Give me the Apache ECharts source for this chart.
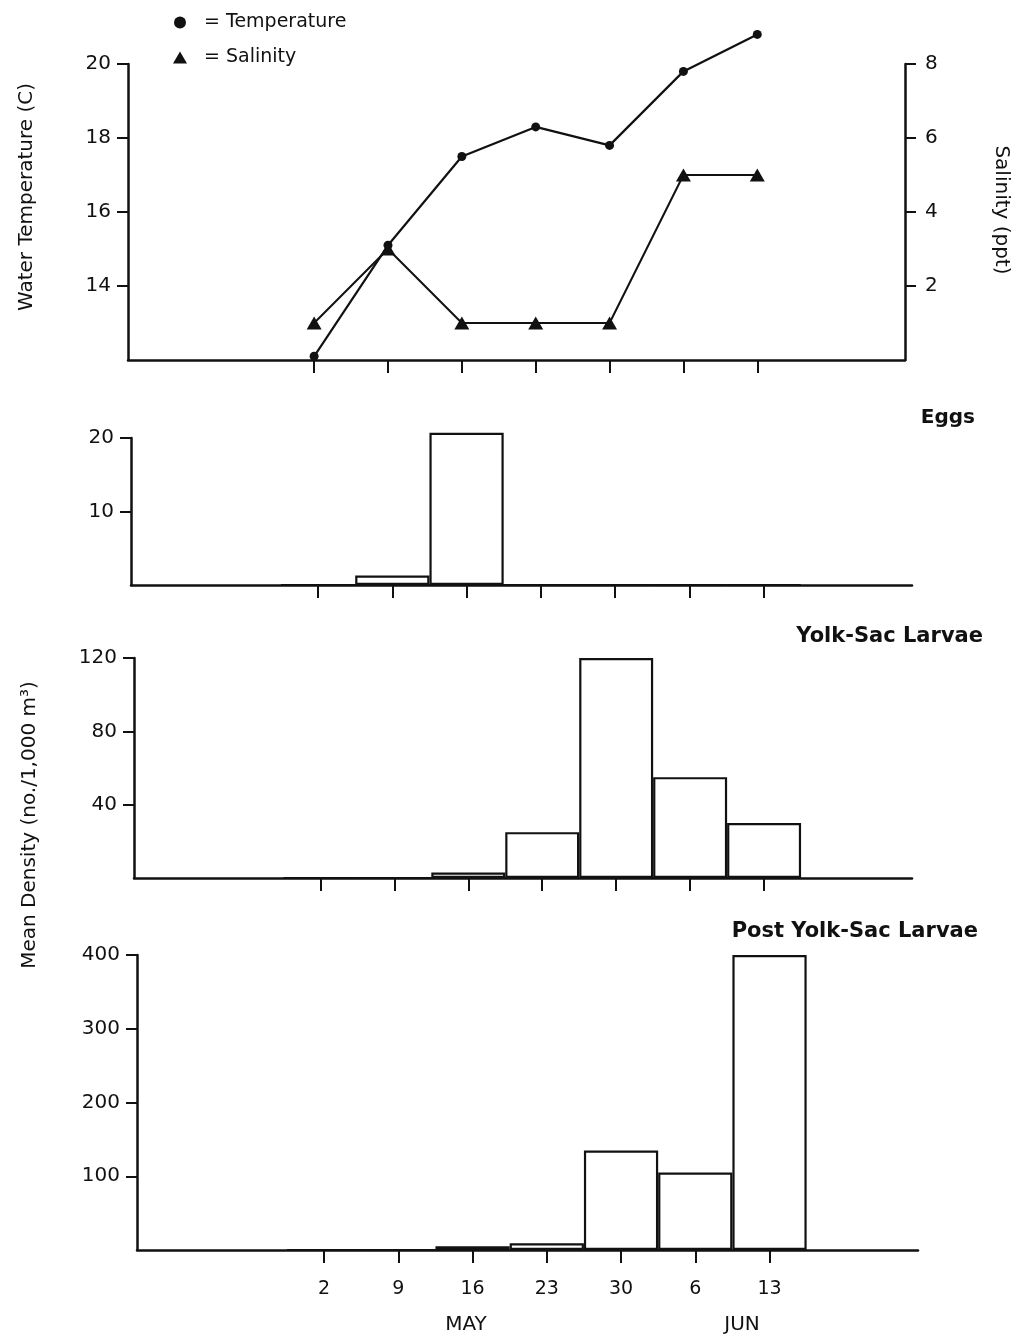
<!DOCTYPE html>
<html>
<head>
<meta charset="utf-8">
<script src="https://cdn.jsdelivr.net/npm/echarts@6/dist/echarts.min.js"></script>
<style>
  html,body{margin:0;padding:0;background:#fff}
  #chart{width:1019px;height:1338px}
</style>
</head>
<body>
<div id="chart"></div>
<script>
  // sampling weeks: May 2 ... Jun 13
  var weekIdx = [0, 1, 2, 3, 4, 5, 6];
  var weekLabels = ['2', '9', '16', '23', '30', '6', '13'];

  var temperature = [12.1, 15.1, 17.5, 18.3, 17.8, 19.8, 20.8];
  var salinity = [1, 3, 1, 1, 1, 5, 5];

  var eggs = [0, 1.3, 20.7, 0, 0, 0, 0];
  var yolkSac = [0, 0, 3, 25, 120, 55, 30];
  var postYolkSac = [0, 0, 5, 9, 135, 105, 400];

  var ink = '#111';
  var font = 'DejaVu Sans';

  var pairs = function (vals) {
    return weekIdx.map(function (w, i) { return [w, vals[i]]; });
  };

  var xAxisOf = function (grid, showLabels) {
    return {
      type: 'value', gridIndex: grid, min: -2.52, max: 8,
      axisLine: { onZero: false, lineStyle: { color: ink, width: 2.5 } },
      axisTick: { show: true, customValues: weekIdx, length: 13, lineStyle: { color: ink, width: 2 } },
      axisLabel: {
        show: showLabels, customValues: weekIdx, margin: 30,
        color: ink, fontSize: 19, fontFamily: font,
        formatter: function (v) { return weekLabels[Math.round(v)]; }
      },
      splitLine: { show: false }
    };
  };

  var yAxisOf = function (grid, min, max, ticks, pos) {
    return {
      type: 'value', gridIndex: grid, min: min, max: max, position: pos || 'left',
      axisLine: { show: true, onZero: false, lineStyle: { color: ink, width: 2.5 } },
      axisTick: { show: true, customValues: ticks, length: 11, lineStyle: { color: ink, width: 2 } },
      axisLabel: { customValues: ticks, margin: pos === 'right' ? 20 : 17, color: ink, fontSize: 20, fontFamily: font },
      splitLine: { show: false }
    };
  };

  var barSeries = function (vals, axis) {
    return {
      type: 'bar', xAxisIndex: axis, yAxisIndex: axis + 1,
      data: pairs(vals), barWidth: '100%', clip: false, silent: true,
      itemStyle: { color: '#fff', borderColor: ink, borderWidth: 2.2 }
    };
  };

  var nameText = function (text, x, y, rot) {
    return {
      type: 'text', x: x, y: y, rotation: rot,
      style: { text: text, fill: ink, font: '20px "DejaVu Sans"', textAlign: 'center', textVerticalAlign: 'middle' }
    };
  };

  var chart = echarts.init(document.getElementById('chart'));
  var option = {
    backgroundColor: '#fff',
    animation: false,
    title: [
      { text: 'Eggs', right: 39, top: 403, textStyle: { color: ink, fontSize: 20, fontWeight: 'bold', fontFamily: font } },
      { text: 'Yolk-Sac Larvae', right: 31, top: 621, textStyle: { color: ink, fontSize: 21, fontWeight: 'bold', fontFamily: font } },
      { text: 'Post Yolk-Sac Larvae', right: 36, top: 916, textStyle: { color: ink, fontSize: 21, fontWeight: 'bold', fontFamily: font } }
    ],
    legend: {
      orient: 'vertical', left: 168, top: 8, itemWidth: 14, itemHeight: 12, itemGap: 16,
      data: [{ name: 'Temperature', icon: 'circle' }, { name: 'Salinity', icon: 'triangle' }],
      formatter: function (n) { return '  = ' + n; },
      textStyle: { color: ink, fontSize: 19, fontFamily: font },
      selectedMode: false
    },
    grid: [
      { left: 128, right: 114, top: 64, height: 296 },
      { left: 131, right: 107, top: 438, height: 147 },
      { left: 134, right: 107, top: 658, height: 220 },
      { left: 137, right: 101, top: 955, height: 295 }
    ],
    xAxis: [xAxisOf(0, false), xAxisOf(1, false), xAxisOf(2, false), xAxisOf(3, true)],
    yAxis: [
      yAxisOf(0, 12, 20, [14, 16, 18, 20]),
      yAxisOf(0, 0, 8, [2, 4, 6, 8], 'right'),
      yAxisOf(1, 0, 20, [10, 20]),
      yAxisOf(2, 0, 120, [40, 80, 120]),
      yAxisOf(3, 0, 400, [100, 200, 300, 400])
    ],
    graphic: [
      nameText('Water Temperature (C)', 27, 197, Math.PI / 2),
      nameText('Salinity (ppt)', 1001, 210, -Math.PI / 2),
      nameText('Mean Density (no./1,000 m³)', 30, 825, Math.PI / 2),
      nameText('MAY', 466, 1325, 0),
      nameText('JUN', 742, 1325, 0)
    ],
    series: [
      {
        name: 'Temperature', type: 'line', xAxisIndex: 0, yAxisIndex: 0,
        data: pairs(temperature), clip: false, symbol: 'circle', symbolSize: 9,
        lineStyle: { color: ink, width: 2.2 }, itemStyle: { color: ink }
      },
      {
        name: 'Salinity', type: 'line', xAxisIndex: 0, yAxisIndex: 1,
        data: pairs(salinity), clip: false, symbol: 'triangle', symbolSize: [15, 13],
        lineStyle: { color: ink, width: 2 }, itemStyle: { color: ink }
      },
      barSeries(eggs, 1),
      barSeries(yolkSac, 2),
      barSeries(postYolkSac, 3)
    ]
  };
  chart.setOption(option);
</script>
</body>
</html>
